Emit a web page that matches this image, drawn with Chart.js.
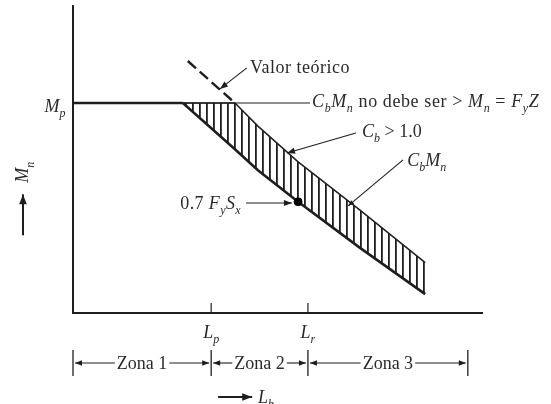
<!DOCTYPE html>
<html>
<head>
<meta charset="utf-8">
<script src="https://cdn.jsdelivr.net/npm/chart.js@4/dist/chart.umd.min.js"></script>
<style>
html,body{margin:0;padding:0;background:#fff;}
canvas{display:block;}
</style>
</head>
<body>
<canvas id="c" width="551" height="404"></canvas>
<script>
// ---- data (Lb along x, Mn along y, Mp = 1) ----
const curveLb      = [2.68, 3.95, 4.51, 5.49, 7.00, 8.59];
const cb1Moment    = [1.00, 0.78, 0.68, 0.53, 0.31, 0.09];   // CbMn lower curve
const cbMoment     = [1.00, 1.00, 0.89, 0.72, 0.49, 0.24];   // Cb > 1.0 upper limit of hatch
const plateauLb    = [0, 2.68];
const plateauM     = [1.00, 1.00];
const theoryLb     = [2.80, 3.95];
const theoryM      = [1.20, 1.00];
const pointLb      = [5.49];
const pointM       = [0.53];
const limitValues  = [3.37, 5.73];
const limitLabels  = [['L','p'], ['L','r']];
const zoneBounds   = [0, 3.37, 5.73, 9.63];
const zoneLabels   = ['Zona 1', 'Zona 2', 'Zona 3'];

const INK = '#1e1e1e';
const TXT = '#2a2a2a';
const FONT = '"Liberation Serif", "Times New Roman", serif';
const FS = 18;

function toXY(xs, ys){ return xs.map((v,i)=>({x:v, y:ys[i]})); }

// hatch pattern
const pc = document.createElement('canvas');
pc.width = 7; pc.height = 7;
const pctx = pc.getContext('2d');
pctx.fillStyle = INK;
pctx.fillRect(3, 0, 1.8, 7);

function rich(ctx, segs, x, y, align, size, spacing){
  size = size || FS;
  ctx.letterSpacing = (spacing || 0) + 'px';
  const fontOf = s => (s.it ? 'italic ' : '') + (s.sub ? Math.round(size*0.68) : size) + 'px ' + FONT;
  let w = 0;
  segs.forEach(s => { ctx.font = fontOf(s); w += ctx.measureText(s.t).width; });
  const left = align === 'center' ? x - w/2 : (align === 'right' ? x - w : x);
  let cx = left;
  ctx.textBaseline = 'alphabetic';
  ctx.textAlign = 'left';
  segs.forEach(s => {
    ctx.font = fontOf(s);
    ctx.fillText(s.t, cx, y + size*0.35 + (s.sub ? size*0.28 : 0));
    cx += ctx.measureText(s.t).width;
  });
  ctx.letterSpacing = '0px';
  return {left: left, width: w};
}

function arrow(ctx, x1, y1, x2, y2, head, lw){
  ctx.lineWidth = lw || 1.2;
  ctx.beginPath(); ctx.moveTo(x1, y1); ctx.lineTo(x2, y2); ctx.stroke();
  if (head){
    const ang = Math.atan2(y2-y1, x2-x1), L = head, W = head*0.38;
    ctx.beginPath();
    ctx.moveTo(x2, y2);
    ctx.lineTo(x2 - L*Math.cos(ang) + W*Math.sin(ang), y2 - L*Math.sin(ang) - W*Math.cos(ang));
    ctx.lineTo(x2 - L*Math.cos(ang) - W*Math.sin(ang), y2 - L*Math.sin(ang) + W*Math.cos(ang));
    ctx.closePath(); ctx.fill();
  }
}

const diagram = {
  id: 'diagram',
  afterDatasetsDraw(chart){
    const {ctx, scales:{x, y}} = chart;
    const X = v => x.getPixelForValue(v), Y = v => y.getPixelForValue(v);
    ctx.save();
    ctx.strokeStyle = INK; ctx.fillStyle = INK; ctx.lineCap = 'butt';
    // axes
    ctx.lineWidth = 2;
    ctx.beginPath();
    ctx.moveTo(X(0), Y(y.max)); ctx.lineTo(X(0), Y(0)); ctx.lineTo(X(x.max), Y(0));
    ctx.stroke();
    // limit ticks + labels
    ctx.lineWidth = 1.2;
    limitValues.forEach((v,i) => {
      ctx.beginPath(); ctx.moveTo(X(v), Y(0)); ctx.lineTo(X(v), Y(0) - 10); ctx.stroke();
      ctx.fillStyle = TXT;
      rich(ctx, [{t:limitLabels[i][0], it:true}, {t:limitLabels[i][1], it:true, sub:true}], X(v), Y(0) + 19, 'center');
      ctx.fillStyle = INK;
    });
    // zones
    const zy = Y(0) + 50;
    ctx.lineWidth = 1.3;
    zoneBounds.forEach(v => { ctx.beginPath(); ctx.moveTo(X(v), zy - 13); ctx.lineTo(X(v), zy + 13); ctx.stroke(); });
    zoneLabels.forEach((lab, i) => {
      const l = X(zoneBounds[i]), r = X(zoneBounds[i+1]);
      ctx.fillStyle = TXT;
      const m = rich(ctx, [{t:lab}], (l + r)/2, zy, 'center');
      ctx.fillStyle = INK;
      arrow(ctx, m.left - 2, zy, l + 2, zy, 7, 1.1);
      arrow(ctx, m.left + m.width + 2, zy, r - 2, zy, 7, 1.1);
    });
    // Lb arrow
    const by = Y(0) + 84;
    arrow(ctx, X(3.54), by, X(4.37), by, 10, 2);
    ctx.fillStyle = TXT;
    rich(ctx, [{t:'L', it:true}, {t:'b', it:true, sub:true}], X(4.51), by, 'left');
    // Mn vertical label + arrow
    ctx.fillStyle = INK;
    arrow(ctx, X(-1.22), Y(0.37), X(-1.22), Y(0.565), 10, 2);
    ctx.save();
    ctx.translate(X(-1.24), Y(0.67));
    ctx.rotate(-Math.PI/2);
    ctx.fillStyle = TXT;
    rich(ctx, [{t:'M', it:true}, {t:'n', it:true, sub:true}], 0, 0, 'center');
    ctx.restore();
    // Mp label
    ctx.fillStyle = TXT;
    rich(ctx, [{t:'M', it:true}, {t:'p', it:true, sub:true}], X(-0.44), Y(0.985), 'center');
    // Valor teórico
    rich(ctx, [{t:'Valor teórico'}], X(4.32), Y(1.171), 'left', FS, 0.5);
    ctx.fillStyle = INK;
    arrow(ctx, X(4.24), Y(1.167), X(3.585), Y(1.067), 8, 1.1);
    // CbMn no debe ser > Mn = FyZ
    ctx.fillStyle = TXT;
    rich(ctx, [{t:'C', it:true}, {t:'b', it:true, sub:true}, {t:'M', it:true}, {t:'n', it:true, sub:true},
               {t:' no debe ser > '}, {t:'M', it:true}, {t:'n', it:true, sub:true}, {t:' = '},
               {t:'F', it:true}, {t:'y', it:true, sub:true}, {t:'Z', it:true}], X(5.83), Y(1.01), 'left', FS, 0.6);
    // Cb > 1.0
    rich(ctx, [{t:'C', it:true}, {t:'b', it:true, sub:true}, {t:' > 1.0'}], X(7.05), Y(0.867), 'left');
    ctx.fillStyle = INK;
    arrow(ctx, X(6.90), Y(0.857), X(5.22), Y(0.762), 8, 1.1);
    // CbMn
    ctx.fillStyle = TXT;
    rich(ctx, [{t:'C', it:true}, {t:'b', it:true, sub:true}, {t:'M', it:true}, {t:'n', it:true, sub:true}], X(8.15), Y(0.729), 'left');
    ctx.fillStyle = INK;
    arrow(ctx, X(8.05), Y(0.729), X(6.71), Y(0.51), 6, 1.1);
    // 0.7 FySx
    ctx.fillStyle = TXT;
    rich(ctx, [{t:'0.7 '}, {t:'F', it:true}, {t:'y', it:true, sub:true}, {t:'S', it:true}, {t:'x', it:true, sub:true}], X(4.10), Y(0.524), 'right', FS, 0.4);
    ctx.fillStyle = INK;
    arrow(ctx, X(4.22), Y(0.524), X(5.34), Y(0.524), 8, 1.1);
    ctx.restore();
  }
};

new Chart(document.getElementById('c'), {
  type: 'scatter',
  data: {
    datasets: [
      { data: toXY(curveLb, cb1Moment), showLine: true, borderColor: INK, borderWidth: 2.6, pointRadius: 0, fill: false, order: 2 },
      { data: toXY(curveLb, cbMoment), showLine: true, borderColor: INK, borderWidth: 1.5, pointRadius: 0,
        fill: {target: 0}, backgroundColor: null, order: 3 },
      { data: toXY(plateauLb, plateauM), showLine: true, borderColor: INK, borderWidth: 2.6, pointRadius: 0, order: 1 },
      { data: toXY([plateauLb[1], 5.78], [1.0, 1.0]), showLine: true, borderColor: INK, borderWidth: 1.1, pointRadius: 0, order: 1 },
      { data: toXY(theoryLb, theoryM), showLine: true, borderColor: INK, borderWidth: 2.4, borderDash: [11, 5], pointRadius: 0, order: 1 },
      { data: toXY(pointLb, pointM), pointRadius: 4, pointBackgroundColor: '#000', pointBorderColor: '#000', order: 0 }
    ]
  },
  options: {
    responsive: false,
    devicePixelRatio: 1,
    animation: false,
    layout: { padding: { left: 73, right: 68, top: 5, bottom: 91 } },
    plugins: { legend: { display: false }, tooltip: { enabled: false } },
    scales: {
      x: { type: 'linear', min: 0, max: 10, display: false },
      y: { type: 'linear', min: 0, max: 1.4667, display: false }
    }
  },
  plugins: [diagram, {
    id: 'hatch',
    beforeInit(chart){
      chart.data.datasets[1].backgroundColor = chart.ctx.createPattern(pc, 'repeat');
    }
  }]
});
</script>
</body>
</html>
